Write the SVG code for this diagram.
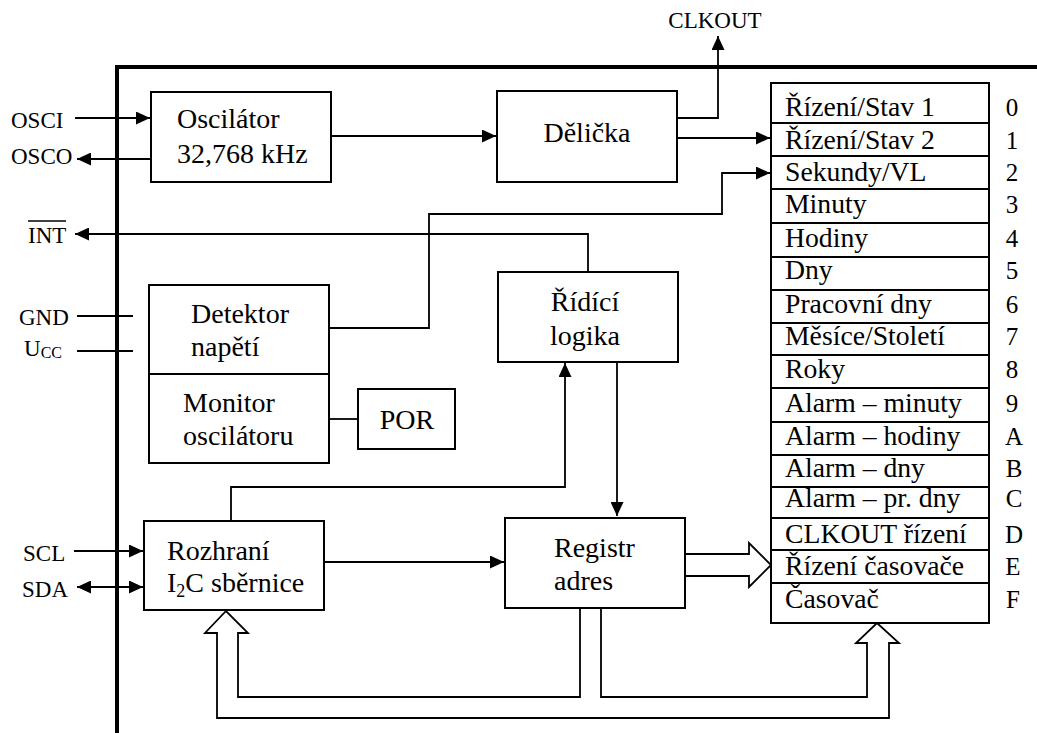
<svg xmlns="http://www.w3.org/2000/svg" width="1037" height="733" viewBox="0 0 1037 733" font-family="Liberation Serif, Tinos, DejaVu Serif, serif">
<style>
text{font-family:'Liberation Serif',Tinos,'DejaVu Serif',serif;fill:#000}
.b{font-size:28px}
.r{font-size:27.7px}
.l{font-size:23px}
.n{font-size:25px}
.c{text-anchor:middle}
.box{fill:#fff;stroke:#000;stroke-width:2}
.w{fill:none;stroke:#000;stroke-width:1.8}
.frame{fill:none;stroke:#000;stroke-width:4}
</style>
<defs>
<marker id="ah" markerWidth="14" markerHeight="13" refX="14" refY="6.5" orient="auto-start-reverse" markerUnits="userSpaceOnUse"><path d="M0,0 L14,6.5 L0,13 z" fill="#000"/></marker>
</defs>
<g id="frame">
<line class="frame" x1="115" y1="67" x2="1037" y2="67"/>
<line class="frame" x1="117" y1="65" x2="117" y2="733"/>
</g>
<g id="connectors">
<polyline class="w" points="75,118 150,118" marker-end="url(#ah)"/>
<polyline class="w" points="151,159 77,159" marker-end="url(#ah)"/>
<polyline class="w" points="331,136 496,136" marker-end="url(#ah)"/>
<polyline class="w" points="677,118 718,118 718,36" marker-end="url(#ah)"/>
<polyline class="w" points="677,138 770,138" marker-end="url(#ah)"/>
<polyline class="w" points="329,328 429,328 429,214 722,214 722,173 770,173" marker-end="url(#ah)"/>
<polyline class="w" points="588,272 588,234 75,234" marker-end="url(#ah)"/>
<line class="w" x1="77" y1="316" x2="133" y2="316"/>
<line class="w" x1="77" y1="351" x2="133" y2="351"/>
<line class="w" x1="329" y1="419" x2="358" y2="419"/>
<polyline class="w" points="617,362 617,516" marker-end="url(#ah)"/>
<polyline class="w" points="231,521 231,487 565,487 565,363" marker-end="url(#ah)"/>
<polyline class="w" points="324,562 504,562" marker-end="url(#ah)"/>
<polyline class="w" points="74,551 143,551" marker-end="url(#ah)"/>
<polyline class="w" points="77,587 143,587" marker-start="url(#ah)" marker-end="url(#ah)"/>
<path class="w" d="M685,554 H749 V543 L771,565 L749,587 V576 H685" fill="#fff"/>
<path class="w" d="M580,608 V697 H238 V633 H248 L226,611 L205,633 H217 V718 H889 V643 H899 L877,623 L856,643 H867 V697 H601 V608"/>
</g>
<g id="labels">
<text class="l" x="11" y="128">OSCI</text>
<text class="l" x="11" y="164">OSCO</text>
<text class="l" x="28" y="243">INT</text>
<line x1="28" y1="221" x2="66" y2="221" stroke="#000" stroke-width="1.3"/>
<text class="l" x="19" y="325">GND</text>
<text class="l" x="24" y="356">U<tspan font-size="16" dy="2">CC</tspan></text>
<text class="l" x="23" y="561">SCL</text>
<text class="l" x="22" y="597">SDA</text>
<text class="l c" x="715" y="28">CLKOUT</text>
</g>
<g id="oscilator">
<rect class="box" x="151" y="92" width="180" height="90"/>
<text class="b" x="177" y="128">Oscilátor</text>
<text class="b" x="177" y="163">32,768 kHz</text>
</g>
<g id="delicka">
<rect class="box" x="497" y="91" width="180" height="91"/>
<text class="b c" x="587" y="142">Dělička</text>
</g>
<g id="detektor">
<rect class="box" x="149" y="285" width="180" height="89"/>
<text class="b" x="191" y="323">Detektor</text>
<text class="b" x="191" y="356">napětí</text>
</g>
<g id="monitor">
<rect class="box" x="149" y="374" width="180" height="89"/>
<text class="b" x="183" y="412">Monitor</text>
<text class="b" x="183" y="445">oscilátoru</text>
</g>
<g id="por">
<rect class="box" x="358" y="389" width="97" height="60"/>
<text class="b c" x="407" y="429">POR</text>
</g>
<g id="ridici">
<rect class="box" x="498" y="272" width="180" height="90"/>
<text class="b c" x="585" y="311">Řídící</text>
<text class="b c" x="585" y="345">logika</text>
</g>
<g id="rozhrani">
<rect class="box" x="144" y="521" width="180" height="89"/>
<text class="b" x="167" y="560">Rozhraní</text>
<text class="b" x="167" y="592">I<tspan font-size="18" dy="5">2</tspan><tspan dy="-5">C sběrnice</tspan></text>
</g>
<g id="registr">
<rect class="box" x="505" y="518" width="180" height="90"/>
<text class="b" x="554" y="557">Registr</text>
<text class="b" x="554" y="590">adres</text>
</g>
<g id="registers">
<rect class="box" x="771" y="83" width="218" height="540"/>
<g stroke="#000" stroke-width="2">
<line x1="771" y1="123" x2="989" y2="123"/>
<line x1="771" y1="156" x2="989" y2="156"/>
<line x1="771" y1="189" x2="989" y2="189"/>
<line x1="771" y1="223" x2="989" y2="223"/>
<line x1="771" y1="257" x2="989" y2="257"/>
<line x1="771" y1="290" x2="989" y2="290"/>
<line x1="771" y1="323" x2="989" y2="323"/>
<line x1="771" y1="355" x2="989" y2="355"/>
<line x1="771" y1="388" x2="989" y2="388"/>
<line x1="771" y1="422" x2="989" y2="422"/>
<line x1="771" y1="455" x2="989" y2="455"/>
<line x1="771" y1="487" x2="989" y2="487"/>
<line x1="771" y1="518" x2="989" y2="518"/>
<line x1="771" y1="550" x2="989" y2="550"/>
<line x1="771" y1="583" x2="989" y2="583"/>
</g>
<text class="r" x="785" y="116">Řízení/Stav 1</text>
<text class="r" x="785" y="149">Řízení/Stav 2</text>
<text class="r" x="785" y="181">Sekundy/VL</text>
<text class="r" x="785" y="213">Minuty</text>
<text class="r" x="785" y="247">Hodiny</text>
<text class="r" x="785" y="279">Dny</text>
<text class="r" x="785" y="313">Pracovní dny</text>
<text class="r" x="785" y="345">Měsíce/Století</text>
<text class="r" x="785" y="378">Roky</text>
<text class="r" x="785" y="412">Alarm – minuty</text>
<text class="r" x="785" y="445">Alarm – hodiny</text>
<text class="r" x="785" y="477">Alarm – dny</text>
<text class="r" x="785" y="507">Alarm – pr. dny</text>
<text class="r" x="785" y="543">CLKOUT řízení</text>
<text class="r" x="785" y="575">Řízení časovače</text>
<text class="r" x="785" y="608">Časovač</text>
<text class="n c" x="1012" y="116">0</text>
<text class="n c" x="1012" y="149">1</text>
<text class="n c" x="1012" y="181">2</text>
<text class="n c" x="1012" y="213">3</text>
<text class="n c" x="1012" y="247">4</text>
<text class="n c" x="1012" y="279">5</text>
<text class="n c" x="1012" y="313">6</text>
<text class="n c" x="1012" y="345">7</text>
<text class="n c" x="1012" y="378">8</text>
<text class="n c" x="1012" y="412">9</text>
<text class="n c" x="1014" y="445">A</text>
<text class="n c" x="1014" y="477">B</text>
<text class="n c" x="1014" y="507">C</text>
<text class="n c" x="1014" y="543">D</text>
<text class="n c" x="1013" y="575">E</text>
<text class="n c" x="1013" y="608">F</text>
</g>
</svg>
